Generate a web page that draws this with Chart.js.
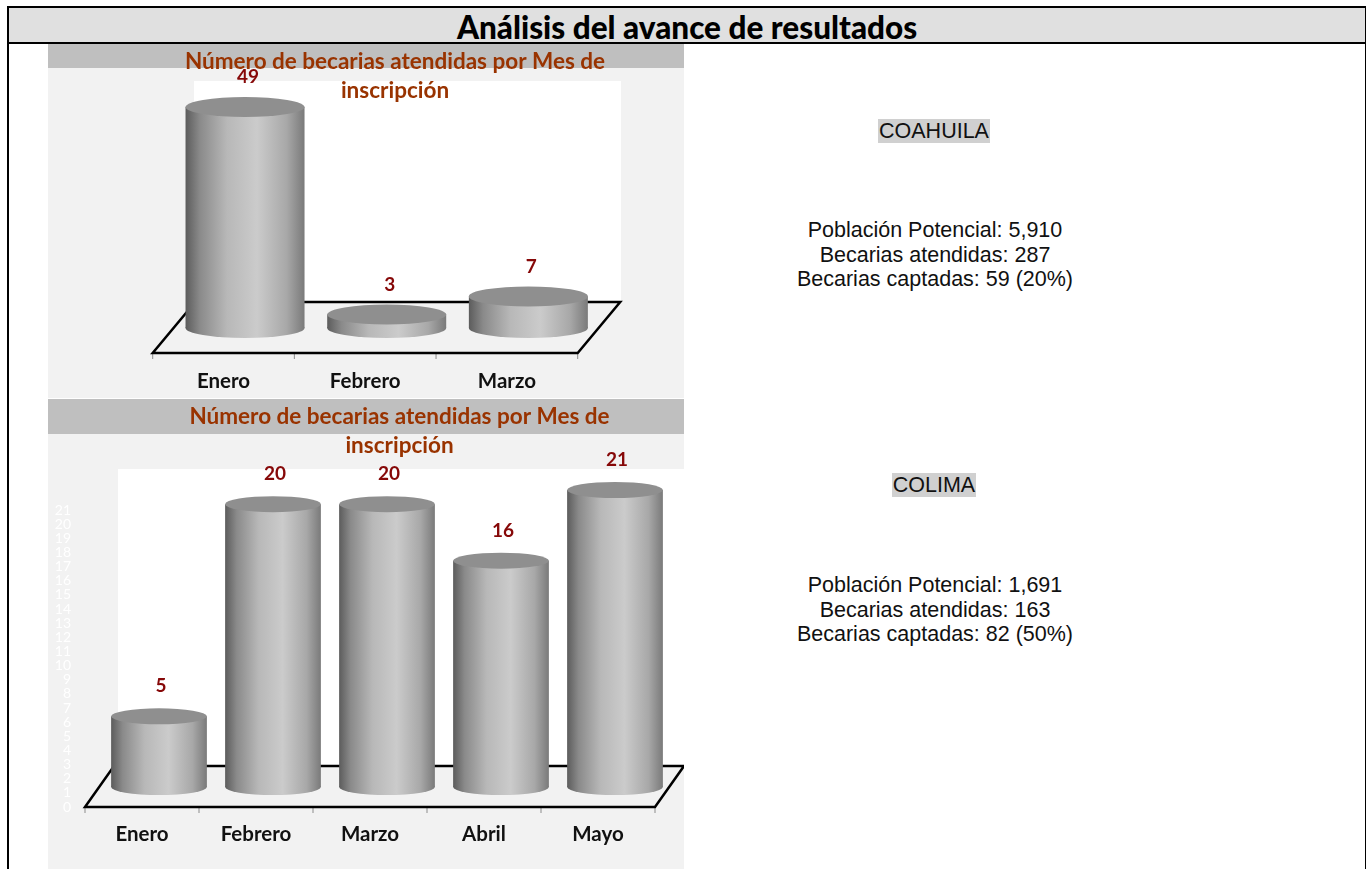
<!DOCTYPE html>
<html lang="es">
<head>
<meta charset="utf-8">
<title>Análisis del avance de resultados</title>
<script src="https://cdn.jsdelivr.net/npm/chart.js@4"></script>
<style>
	html, body { margin: 0; padding: 0; background: #fff; overflow: hidden; }
	body { width: 1366px; height: 869px; position: relative; font-family: "Liberation Sans", Arial, sans-serif; color: #111; }
	.bloque { position: absolute; }
	.marco { left: 7px; top: 6px; width: 1359px; height: 870px; border: 2px solid #000; border-right-width: 1px; box-sizing: border-box; }
	.encabezado { left: 9px; top: 8px; width: 1356px; height: 34px; background: #e0e0e0; border-bottom: 2px solid #000; text-align: center; font: 900 31.5px/38px Lato, sans-serif; color: #000; }
	.banda { left: 48px; width: 636px; background: #bfbfbf; }
	.panel { left: 48px; width: 636px; background: #f2f2f2; }
	canvas { position: absolute; left: 48px; }
	.estado { left: 700px; width: 468px; text-align: center; font-size: 21.5px; line-height: 25px; }
	.estado span { background: #d0d0d0; padding: 0 1px; }
	.cifras { left: 700px; width: 470px; text-align: center; font-size: 21.5px; line-height: 24.5px; }
</style>
</head>
<body>
<div class="bloque marco"></div>
<div class="bloque encabezado">Análisis del avance de resultados</div>

<div class="bloque banda" style="top:44px;height:24px"></div>
<div class="bloque panel" style="top:68px;height:330px"></div>
<div class="bloque banda" style="top:399px;height:35px"></div>
<div class="bloque panel" style="top:434px;height:435px"></div>

<canvas id="grafico-coahuila" width="636" height="354" style="top:44px;width:636px;height:354px"></canvas>
<canvas id="grafico-colima" width="636" height="470" style="top:399px;width:636px;height:470px"></canvas>

<div class="bloque estado" style="top:119px"><span>COAHUILA</span></div>
<div class="bloque cifras" style="top:218px">Población Potencial: 5,910<br>Becarias atendidas: 287<br>Becarias captadas: 59 (20%)</div>
<div class="bloque estado" style="top:473px"><span>COLIMA</span></div>
<div class="bloque cifras" style="top:573px">Población Potencial: 1,691<br>Becarias atendidas: 163<br>Becarias captadas: 82 (50%)</div>

<script>
const tituloGrafico = ["Número de becarias atendidas por Mes de", "inscripción"];

const mesesCoahuila = ["Enero", "Febrero", "Marzo"];
const becariasCoahuila = [49, 3, 7];

const mesesColima = ["Enero", "Febrero", "Marzo", "Abril", "Mayo"];
const becariasColima = [5, 20, 20, 16, 21];

// degradado horizontal del cilindro, de borde a borde de la barra
function degradado(ctx, x, ancho){
	const g = ctx.createLinearGradient(x - ancho / 2, 0, x + ancho / 2, 0);
	g.addColorStop(0, "#5c5c5c");
	g.addColorStop(0.12, "#8a8a8a");
	g.addColorStop(0.35, "#b8b8b8");
	g.addColorStop(0.6, "#cbcbcb");
	g.addColorStop(0.85, "#a8a8a8");
	g.addColorStop(1, "#7a7a7a");
	return g;
}

function elipse(ctx, x, y, rx, ry, relleno){
	ctx.beginPath();
	ctx.ellipse(x, y, rx, ry, 0, 0, Math.PI * 2);
	ctx.fillStyle = relleno;
	ctx.fill();
}

// piso en perspectiva, caras de los cilindros y etiquetas de valor
const cilindros = {
	id: "cilindros",
	afterLayout(chart, args, op){
		chart.titleBlock.left += op.corrimientoTitulo;
		chart.titleBlock.right += op.corrimientoTitulo;
	},
	beforeDraw(chart, args, op){
		// fondo blanco del area de trazado, el titulo va encima
		const yFondo = chart.chartArea.bottom - op.fondo.dy;
		chart.ctx.fillStyle = "#fff";
		chart.ctx.fillRect(op.blanco.x, op.blanco.y, op.blanco.w, yFondo - op.blanco.y);
	},
	beforeDatasetsDraw(chart, args, op){
		const ctx = chart.ctx;
		const {left, right, bottom} = chart.chartArea;
		const yFrente = bottom + op.frente.dy;
		const yFondo = bottom - op.fondo.dy;
		ctx.save();
		// marcas del eje en el borde frontal
		const banda = (right - left) / chart.scales.x.ticks.length;
		ctx.strokeStyle = "#8c8c8c";
		ctx.lineWidth = 1;
		for(let i = 0; i <= chart.scales.x.ticks.length; i++){
			const x = left - op.frente.dx + i * banda;
			ctx.beginPath();
			ctx.moveTo(x, yFrente);
			ctx.lineTo(x, yFrente + 6);
			ctx.stroke();
		}
		ctx.beginPath();
		ctx.moveTo(left - op.frente.dx, yFrente);
		ctx.lineTo(right - op.frente.dx, yFrente);
		ctx.lineTo(right + op.fondo.dx, yFondo);
		ctx.lineTo(left + op.fondo.dx, yFondo);
		ctx.closePath();
		ctx.strokeStyle = "#000";
		ctx.lineWidth = 2.5;
		ctx.lineJoin = "miter";
		ctx.stroke();
		ctx.restore();
		// cara inferior
		chart.getDatasetMeta(0).data.forEach(barra => {
			elipse(ctx, barra.x, barra.base, barra.width / 2, op.ry, degradado(ctx, barra.x, barra.width));
		});
	},
	afterDatasetsDraw(chart, args, op){
		const ctx = chart.ctx;
		const valores = chart.data.datasets[0].data;
		ctx.save();
		ctx.font = "bold 19px Lato, sans-serif";
		ctx.textAlign = "center";
		ctx.textBaseline = "middle";
		chart.getDatasetMeta(0).data.forEach((barra, i) => {
			elipse(ctx, barra.x, barra.y, barra.width / 2, op.ry, "#8f8f8f");
			ctx.fillStyle = "#860808";
			ctx.fillText(valores[i], barra.x + op.etiqueta.dx, barra.y - op.etiqueta.dy);
		});
		ctx.restore();
	}
};

function crearGrafico(id, meses, valores, maximo, op){
	const contexto = document.getElementById(id).getContext("2d");
	new Chart(contexto, {
		type: "bar",
		data: {
			labels: meses,
			datasets: [{
				data: valores,
				barPercentage: 1,
				categoryPercentage: 0.84,
				backgroundColor(c){
					const area = c.chart.chartArea;
					if(!area)
						return "#aaa";
					const banda = (area.right - area.left) / meses.length;
					return degradado(contexto, area.left + banda * (c.dataIndex + 0.5), banda * 0.84);
				}
			}]
		},
		plugins: [cilindros],
		options: {
			responsive: false,
			animation: false,
			layout: {padding: op.margen},
			scales: {
				x: {
					grid: {display: false},
					border: {display: false},
					afterFit(s){ s.height = op.altoEje; },
					ticks: {
						padding: op.separacion,
						labelOffset: -op.frente.dx,
						maxRotation: 0,
						color: "#111",
						font: {family: "Lato", size: 20.5, weight: "bold"}
					}
				},
				y: {
					display: op.verEjeY,
					min: 0,
					max: maximo,
					grid: {display: false},
					border: {display: false},
					afterFit(s){ s.width = op.verEjeY ? 54 : 0; },
					ticks: {
						stepSize: 1,
						autoSkip: false,
						padding: 23,
						labelOffset: op.frente.dy,
						color: "#ffffff",
						font: {family: "Lato", size: 14}
					}
				}
			},
			plugins: {
				legend: {display: false},
				tooltip: {enabled: false},
				title: {
					display: true,
					text: tituloGrafico,
					color: "#993300",
					padding: op.paddingTitulo,
					font: {family: "Lato", size: 22.5, weight: "bold", lineHeight: "29px"}
				},
				cilindros: op
			}
		}
	});
}

crearGrafico("grafico-coahuila", mesesCoahuila, becariasCoahuila, 49, {
	margen: {left: 126.2, right: 84.8},
	verEjeY: false,
	altoEje: 70,
	separacion: 33,
	paddingTitulo: {top: 3.5, bottom: 1.5},
	corrimientoTitulo: 8.3,
	ry: 10,
	frente: {dx: 21.5, dy: 25},
	fondo: {dx: 21, dy: 26},
	blanco: {x: 146, y: 37, w: 427},
	etiqueta: {dx: 3, dy: 30}
});

crearGrafico("grafico-colima", mesesColima, becariasColima, 21, {
	margen: {left: 0, right: 12},
	verEjeY: true,
	altoEje: 82,
	separacion: 27,
	paddingTitulo: {top: 3.5, bottom: 29.5},
	corrimientoTitulo: 39.5,
	ry: 8,
	frente: {dx: 17, dy: 20},
	fondo: {dx: 12, dy: 21},
	blanco: {x: 70, y: 70, w: 566},
	etiqueta: {dx: 2, dy: 30}
});
</script>
</body>
</html>
